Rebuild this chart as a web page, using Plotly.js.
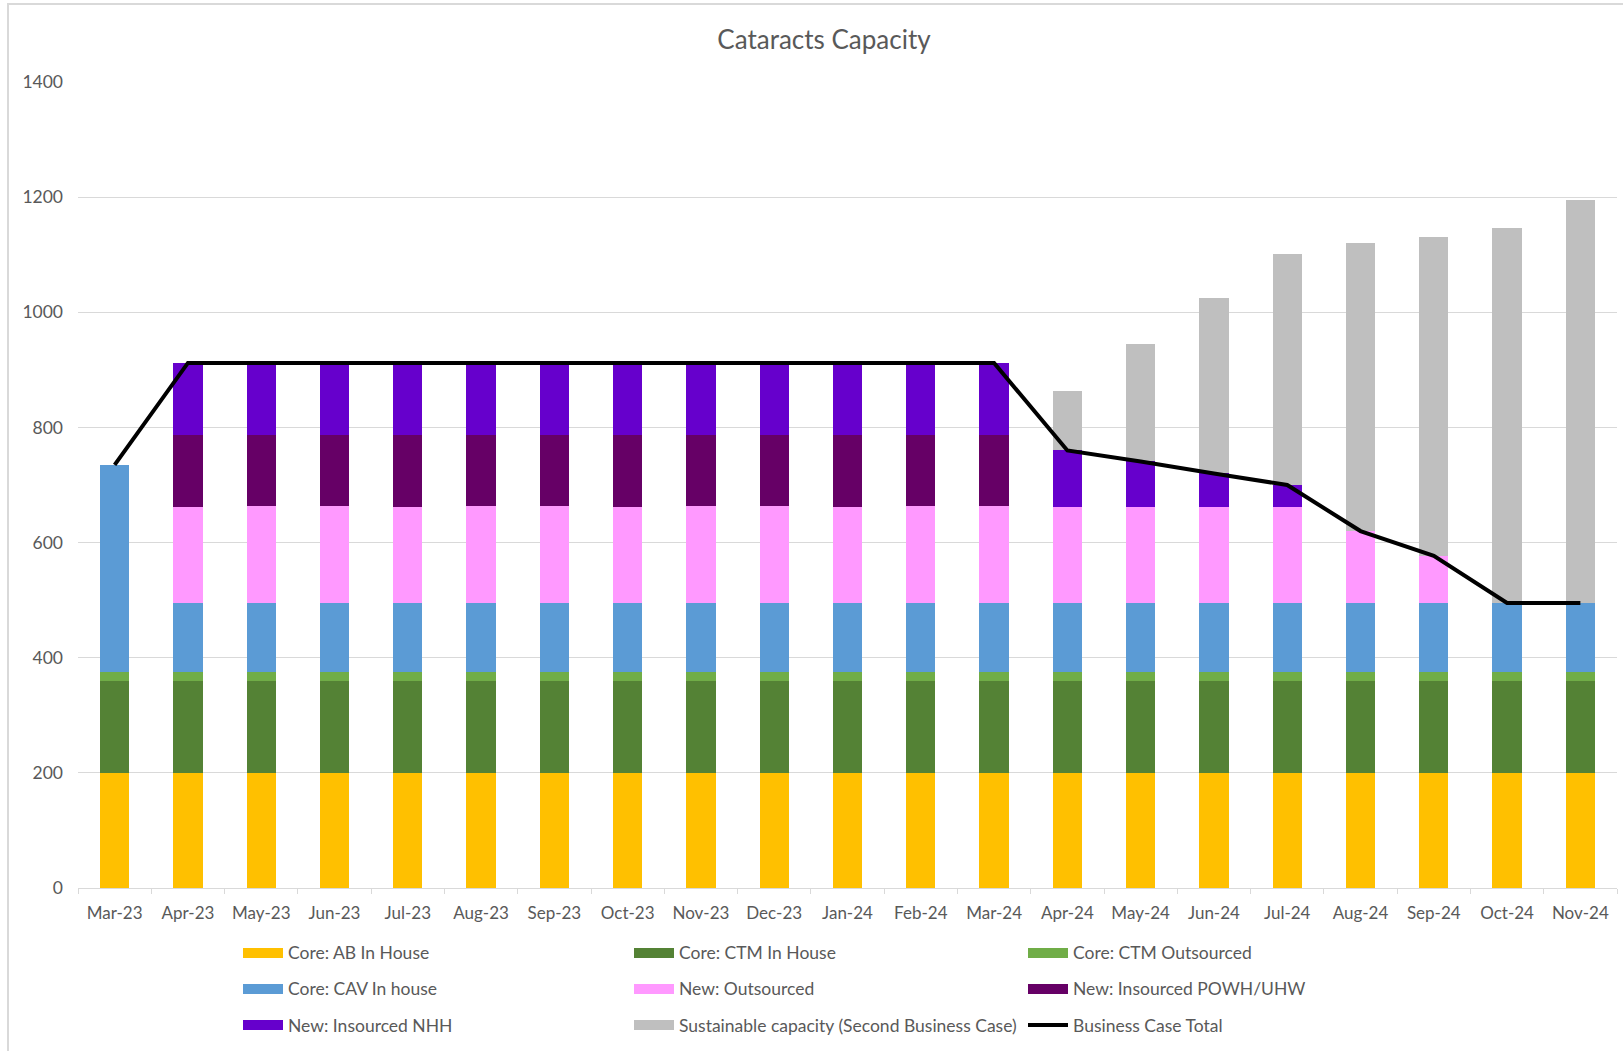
<!DOCTYPE html>
<html>
<head>
<meta charset="utf-8">
<script src="https://cdn.plot.ly/plotly-3.0.1.min.js"></script>
<style>
  html, body { margin: 0; padding: 0; background: #ffffff; }
  #chart { position: absolute; left: 0; top: 0; width: 1623px; height: 1051px; }
  #frame { position: absolute; left: 7px; top: 3px; right: -10px; bottom: -10px;
           border-left: 2px solid #d9d9d9; border-top: 2px solid #d9d9d9; pointer-events: none; }
</style>
</head>
<body>
<div id="chart"></div>
<div id="frame"></div>
<script>
// Monthly categories
const months = ['Mar-23','Apr-23','May-23','Jun-23','Jul-23','Aug-23','Sep-23','Oct-23','Nov-23',
                'Dec-23','Jan-24','Feb-24','Mar-24','Apr-24','May-24','Jun-24','Jul-24','Aug-24',
                'Sep-24','Oct-24','Nov-24'];

// Capacity components (stacked, bottom to top)
const coreABInHouse     = [200,200,200,200,200,200,200,200,200,200,200,200,200,200,200,200,200,200,200,200,200];
const coreCTMInHouse    = [160,160,160,160,160,160,160,160,160,160,160,160,160,160,160,160,160,160,160,160,160];
const coreCTMOutsourced = [15,15,15,15,15,15,15,15,15,15,15,15,15,15,15,15,15,15,15,15,15];
const coreCAVInHouse    = [360,120,120,120,120,120,120,120,120,120,120,120,120,120,120,120,120,120,120,120,120];
const newOutsourced     = [0,166,168,168,166,168,168,166,168,168,166,168,168,167,167,167,167,125,82,0,0];
const newInsourcedPOWH  = [0,126,124,124,126,124,124,126,124,124,126,124,124,0,0,0,0,0,0,0,0];
const newInsourcedNHH   = [0,125,125,125,125,125,125,125,125,125,125,125,125,98,79,58,38,0,0,0,0];
const sustainableExtra  = [0,0,0,0,0,0,0,0,0,0,0,0,0,103,204,304,401,501,553,651,700];

// Business case total line
const businessCaseTotal = [735,912,912,912,912,912,912,912,912,912,912,912,912,760,741,720,700,620,577,495,495];

const seriesNames = ['Core: AB In House','Core: CTM In House','Core: CTM Outsourced',
                     'Core: CAV In house','New: Outsourced','New: Insourced POWH/UHW',
                     'New: Insourced NHH','Sustainable capacity (Second Business Case)'];
const seriesValues = [coreABInHouse, coreCTMInHouse, coreCTMOutsourced, coreCAVInHouse,
                      newOutsourced, newInsourcedPOWH, newInsourcedNHH, sustainableExtra];
const seriesColors = ['#FFC000','#548235','#70AD47','#5B9BD5','#FF99FF','#660066','#6600CC','#BFBFBF'];
const lineName = 'Business Case Total';

const FONT = 'Lato, "Open Sans", sans-serif';
const GREY_TEXT = '#595959';

const traces = seriesNames.map((name, i) => ({
  type: 'bar',
  name: name,
  x: months,
  y: seriesValues[i],
  marker: { color: seriesColors[i], line: { width: 0 } },
  showlegend: false,
  hoverinfo: 'x+y+name'
}));

traces.push({
  type: 'scatter',
  mode: 'lines',
  name: lineName,
  x: months,
  y: businessCaseTotal,
  line: { color: '#000000', width: 4 },
  showlegend: false
});

// Plot area in pixels
const W = 1623, H = 1051;
const L = 78, R = 6, T = 82, B = 163;
const plotW = W - L - R, plotH = H - T - B;
const px2x = px => (px - L) / plotW;
const py2y = py => (H - B - py) / plotH;

// Three-column legend under the chart
const legendItems = seriesNames.map((n, i) => ({ name: n, color: seriesColors[i], kind: 'bar' }));
legendItems.push({ name: lineName, color: '#000000', kind: 'line' });
const colX = [243, 634, 1028];
const rowY = [953, 989, 1025];
const shapes = [];
const annotations = [];
legendItems.forEach((item, k) => {
  const c = k % 3, r = Math.floor(k / 3);
  const x0 = colX[c], x1 = colX[c] + 40, yc = rowY[r];
  if (item.kind === 'bar') {
    shapes.push({ type: 'rect', xref: 'paper', yref: 'paper',
      x0: px2x(x0), x1: px2x(x1), y0: py2y(yc + 5), y1: py2y(yc - 5),
      fillcolor: item.color, line: { width: 0 } });
  } else {
    shapes.push({ type: 'line', xref: 'paper', yref: 'paper',
      x0: px2x(x0), x1: px2x(x1), y0: py2y(yc), y1: py2y(yc),
      line: { color: item.color, width: 4 } });
  }
  annotations.push({ xref: 'paper', yref: 'paper', x: px2x(x1 + 3), y: py2y(yc),
    xanchor: 'left', yanchor: 'middle', showarrow: false, text: item.name,
    font: { family: FONT, size: 17.5, color: GREY_TEXT } });
});

const layout = {
  width: W, height: H,
  margin: { l: L, r: R, t: T, b: B, pad: 0 },
  paper_bgcolor: '#ffffff', plot_bgcolor: '#ffffff',
  barmode: 'stack',
  bargap: 0.6,
  title: { text: 'Cataracts Capacity', x: 824 / W, xref: 'container', xanchor: 'center',
           y: 1 - 40 / H, yref: 'container', yanchor: 'middle',
           font: { family: FONT, size: 26, color: GREY_TEXT } },
  xaxis: {
    type: 'category',
    tickson: 'boundaries',
    ticks: 'outside', ticklen: 5, tickcolor: '#d9d9d9', tickwidth: 1,
    showline: true, linecolor: '#d9d9d9', linewidth: 1,
    showgrid: false, zeroline: false,
    tickfont: { family: FONT, size: 17, color: GREY_TEXT },
    ticklabelstandoff: 10,
    fixedrange: true
  },
  yaxis: {
    range: [0, 1400], dtick: 200, tick0: 0,
    showgrid: true, gridcolor: '#d9d9d9', gridwidth: 1,
    zeroline: false, showline: false, ticks: '',
    tickfont: { family: FONT, size: 17.5, color: GREY_TEXT },
    ticklabelstandoff: 14,
    fixedrange: true
  },
  shapes: shapes,
  annotations: annotations,
  showlegend: false
};

Plotly.newPlot('chart', traces, layout, { displayModeBar: false, staticPlot: true });
</script>
</body>
</html>
